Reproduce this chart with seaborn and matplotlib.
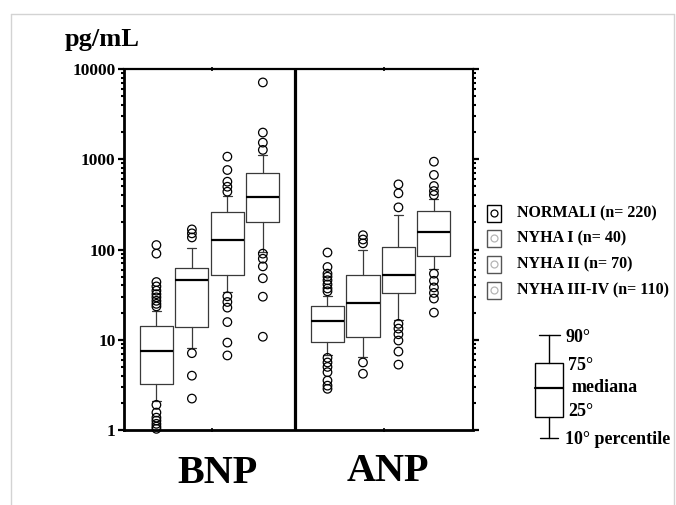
import numpy as np
import pandas as pd
import matplotlib
matplotlib.use("Agg")
import matplotlib.pyplot as plt
import matplotlib.ticker as mticker
from matplotlib.patches import Rectangle
from matplotlib.lines import Line2D
import seaborn as sns

# ---------------- data ----------------
groups = ["NORMALI (n= 220)", "NYHA I (n= 40)", "NYHA II (n= 70)", "NYHA III-IV (n= 110)"]
peptides = ["BNP", "ANP"]

bnp_p10 = [2.1, 8.1, 33.8, 94]
bnp_q1 = [3.2, 13.8, 52.7, 199.5]
bnp_med = [7.5, 45.6, 127, 378]
bnp_q3 = [14.3, 62.5, 262, 699]
bnp_p90 = [21, 103, 391, 1116]

anp_p10 = [6.7, 6.5, 16.7, 61.5]
anp_q1 = [9.5, 10.6, 33, 85]
anp_med = [16.1, 25.8, 52.7, 157]
anp_q3 = [23.9, 52.7, 107, 268]
anp_p90 = [30.3, 98, 240, 359]

bnp_out_normali = [112, 90, 43.6, 39, 35, 32, 29.5, 27, 25, 23.4, 1.9, 1.56, 1.37, 1.27, 1.17, 1.09, 1.03]
bnp_out_nyha1 = [167, 151, 136, 7.1, 4.0, 2.23]
bnp_out_nyha2 = [1069, 760, 564, 496, 437, 30.3, 26.2, 22.7, 15.7, 9.3, 6.7]
bnp_out_nyha34 = [7100, 1976, 1528, 1269, 90, 79, 65, 48, 30, 10.8]

anp_out_normali = [92.6, 64, 54, 50, 45.6, 41, 37, 34.4, 6.3, 5.6, 5.0, 4.37, 3.53, 3.1, 2.86]
anp_out_nyha1 = [144, 129, 117, 5.6, 4.2]
anp_out_nyha2 = [527, 419, 293, 15, 13.3, 11.5, 9.8, 7.4, 5.3]
anp_out_nyha34 = [940, 670, 505, 444, 401, 54, 45, 38, 33, 28.6, 20]

y_ticks = [1, 10, 100, 1000, 10000]
y_tick_labels = ["1", "10", "100", "1000", "10000"]

# ---------------- style ----------------
sns.set_theme(style="ticks")
plt.rcParams["font.family"] = ["Liberation Serif", "DejaVu Serif"]
plt.rcParams["font.weight"] = "bold"
plt.rcParams["text.color"] = "black"
plt.rcParams["axes.labelcolor"] = "black"
plt.rcParams["xtick.color"] = "black"
plt.rcParams["ytick.color"] = "black"
plt.rcParams["axes.edgecolor"] = "black"

W, H = 676, 505
fig = plt.figure(figsize=(W / 100, H / 100), dpi=100)
fig.patch.set_facecolor("white")

# overlay axes in pixel coordinates for decorations
ov = fig.add_axes([0, 0, 1, 1])
ov.set_xlim(0, W)
ov.set_ylim(H, 0)
ov.set_axis_off()
ov.patch.set_alpha(0)

ax = fig.add_axes([124 / W, 1 - 430 / H, (473 - 124) / W, (430 - 69) / H])
ax.patch.set_facecolor("white")

# layout of the categories
panel_start = [0.9, 5.65]
step = 0.985
box_width = 0.92
divider = 4.75
panel_centers = [2.44, 7.22]

stats_sets = [
    (bnp_p10, bnp_q1, bnp_med, bnp_q3, bnp_p90),
    (anp_p10, anp_q1, anp_med, anp_q3, anp_p90),
]
outlier_sets = [
    [bnp_out_normali, bnp_out_nyha1, bnp_out_nyha2, bnp_out_nyha34],
    [anp_out_normali, anp_out_nyha1, anp_out_nyha2, anp_out_nyha34],
]

stats, positions, rows = [], [], []
for p, (p10, q1, med, q3, p90) in enumerate(stats_sets):
    for i in range(len(groups)):
        pos = panel_start[p] + i * step
        positions.append(pos)
        stats.append(dict(med=med[i], q1=q1[i], q3=q3[i], whislo=p10[i], whishi=p90[i], fliers=[]))
        for v in outlier_sets[p][i]:
            rows.append(dict(peptide=peptides[p], group=groups[i], pos=pos, value=v))

df_out = pd.DataFrame(rows)

edge = "#3a3a3a"
ax.bxp(stats, positions=positions, widths=box_width, showfliers=False,
       manage_ticks=False, capwidths=0.25,
       boxprops=dict(color=edge, lw=0.9),
       medianprops=dict(color="black", lw=1.6),
       whiskerprops=dict(color=edge, lw=0.9),
       capprops=dict(color=edge, lw=0.9))

sns.scatterplot(data=df_out, x="pos", y="value", ax=ax, marker="o", s=38,
                facecolor="none", edgecolor="black", linewidth=0.9,
                legend=False, zorder=3, clip_on=False)

ax.set_yscale("log")
ax.set_ylim(1, 10000)
ax.set_xlim(0, 9.69)
ax.set_xlabel("")
ax.set_ylabel("")
ax.yaxis.set_major_locator(mticker.FixedLocator(y_ticks))
ax.yaxis.set_major_formatter(mticker.FixedFormatter(y_tick_labels))
ax.yaxis.set_minor_locator(mticker.LogLocator(base=10, subs=np.arange(2, 10)))
ax.yaxis.set_minor_formatter(mticker.NullFormatter())
ax.tick_params(axis="y", which="major", length=4, width=1.6, direction="out",
               labelsize=12.5, pad=2, left=True, right=True,
               color="black", labelcolor="black")
ax.tick_params(axis="y", which="minor", length=2, width=1.5, direction="out",
               left=True, right=True, color="black")
for lab in ax.get_yticklabels():
    lab.set_fontweight("bold")
ax.set_xticks(panel_centers)
ax.set_xticklabels([])
ax.tick_params(axis="x", which="both", length=3, width=1.2, direction="inout",
               top=True, bottom=True, color="black")

ax.spines["left"].set_linewidth(2.0)
ax.spines["top"].set_linewidth(1.6)
ax.spines["bottom"].set_linewidth(2.0)
ax.spines["right"].set_linewidth(1.5)
for s in ax.spines.values():
    s.set_color("black")
ax.axvline(divider, color="black", lw=2.3, zorder=4)

# ---------------- decorations ----------------
frame_c = "#d3d3d3"
ov.add_line(Line2D([10.5, 674], [14, 14], color=frame_c, lw=1))
ov.add_line(Line2D([10.5, 10.5], [14, H], color=frame_c, lw=1))
ov.add_line(Line2D([674, 674], [14, H], color=frame_c, lw=1))

ov.text(102, 46, "pg/mL", ha="center", va="baseline", fontsize=19, fontweight="bold", color="black")
ov.text(218, 483, peptides[0], ha="center", va="baseline", fontsize=29, fontweight="bold", color="black")
ov.text(388, 481, peptides[1], ha="center", va="baseline", fontsize=29, fontweight="bold", color="black")

# legend
leg_y = [213, 238, 264, 290]
for i, g in enumerate(groups):
    ec = "black" if i == 0 else "#555555"
    cc = "black" if i == 0 else "#b5b5b5"
    ov.add_patch(Rectangle((487, leg_y[i] - 8.5), 14, 17, fill=False, ec=ec, lw=1.0))
    ov.plot([494], [leg_y[i]], marker="o", ms=5, mfc="none", mec=cc, mew=0.9)
    ov.text(517, leg_y[i], g, ha="left", va="center", fontsize=11.5, fontweight="bold", color="black")

# key box diagram
kc = "black"
ov.add_patch(Rectangle((535, 363), 28, 54, fill=False, ec=kc, lw=1.0))
ov.add_line(Line2D([535, 563], [388, 388], color=kc, lw=1.6))
ov.add_line(Line2D([549, 549], [335, 363], color=kc, lw=1.0))
ov.add_line(Line2D([549, 549], [417, 438], color=kc, lw=1.0))
ov.add_line(Line2D([539, 560], [335, 335], color=kc, lw=1.0))
ov.add_line(Line2D([540, 558], [438, 438], color=kc, lw=1.0))
for txt, tx, ty in [("90°", 565, 337), ("75°", 568, 365), ("mediana", 572, 388),
                    ("25°", 568, 412), ("10° percentile", 565, 440)]:
    ov.text(tx, ty, txt, ha="left", va="center", fontsize=13, fontweight="bold", color="black")

fig.savefig("out.png", dpi=100, facecolor="white")
